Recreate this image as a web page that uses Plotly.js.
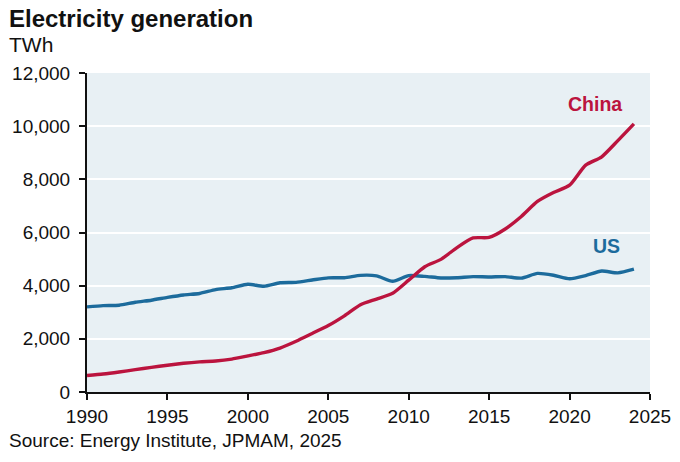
<!DOCTYPE html>
<html>
<head>
<meta charset="utf-8">
<script src="https://cdn.plot.ly/plotly-3.0.1.min.js"></script>
<style>
  body { margin: 0; background: #fff; }
  #chart { width: 680px; height: 462px; }
</style>
</head>
<body>
<div id="chart"></div>
<script>
var years = [];
for (var y = 1990; y <= 2024; y++) years.push(y);

// TWh
var china = [621, 678, 754, 840, 928, 1008, 1081, 1135, 1167, 1239,
             1356, 1481, 1654, 1911, 2203, 2500, 2866, 3282, 3496, 3714,
             4208, 4713, 4988, 5432, 5795, 5815, 6133, 6604, 7167, 7503,
             7779, 8534, 8849, 9456, 10087];
var us = [3203, 3250, 3264, 3375, 3453, 3558, 3651, 3707, 3850, 3921,
          4053, 3979, 4110, 4126, 4212, 4294, 4300, 4389, 4369, 4165,
          4378, 4349, 4290, 4300, 4339, 4327, 4341, 4284, 4461, 4392,
          4260, 4380, 4550, 4480, 4620];

var red = '#bb143e', blue = '#1c6b9c';
var font = 'Liberation Sans, Arial, sans-serif';

var traces = [
  {x: years, y: us, mode: 'lines', type: 'scatter', name: 'US',
   line: {color: blue, width: 3.4, shape: 'spline', smoothing: 0.6}},
  {x: years, y: china, mode: 'lines', type: 'scatter', name: 'China',
   line: {color: red, width: 3.4, shape: 'spline', smoothing: 0.6}}
];

var layout = {
  width: 680, height: 462,
  margin: {l: 87, r: 30, t: 73, b: 70},
  paper_bgcolor: '#ffffff',
  plot_bgcolor: '#e8f0f4',
  showlegend: false,
  font: {family: font, color: '#111', size: 19},
  xaxis: {
    range: [1990, 2025], tickvals: [1990, 1995, 2000, 2005, 2010, 2015, 2020, 2025],
    showgrid: false, zeroline: false,
    showline: true, linecolor: '#111', linewidth: 2,
    ticks: 'outside', ticklen: 6, tickwidth: 2, tickcolor: '#111',
    tickfont: {size: 19, family: font}
  },
  yaxis: {
    range: [0, 12000], dtick: 2000, tickformat: ',d',
    showgrid: true, gridcolor: '#ffffff', gridwidth: 2, zeroline: false,
    showline: true, linecolor: '#111', linewidth: 2,
    ticks: 'outside', ticklen: 6, tickwidth: 2, tickcolor: '#111',
    ticklabelstandoff: 5,
    tickfont: {size: 19, family: font}
  },
  annotations: [
    {xref: 'paper', yref: 'paper', x: -0.142, y: 1.172, xanchor: 'left', yanchor: 'middle',
     text: '<b>Electricity generation</b>', showarrow: false,
     font: {size: 24, family: font, color: '#111'}},
    {xref: 'paper', yref: 'paper', x: -0.142, y: 1.088, xanchor: 'left', yanchor: 'middle',
     text: 'TWh', showarrow: false, font: {size: 21, family: font, color: '#111'}},
    {xref: 'paper', yref: 'paper', x: -0.142, y: -0.152, xanchor: 'left', yanchor: 'middle',
     text: 'Source: Energy Institute, JPMAM, 2025', showarrow: false,
     font: {size: 19, family: font, color: '#111'}},
    {x: 2021.6, y: 10850, text: '<b>China</b>', showarrow: false,
     font: {size: 19.5, family: font, color: red}},
    {x: 2022.3, y: 5480, text: '<b>US</b>', showarrow: false,
     font: {size: 19.5, family: font, color: blue}}
  ]
};

Plotly.newPlot('chart', traces, layout, {staticPlot: true});
</script>
</body>
</html>
